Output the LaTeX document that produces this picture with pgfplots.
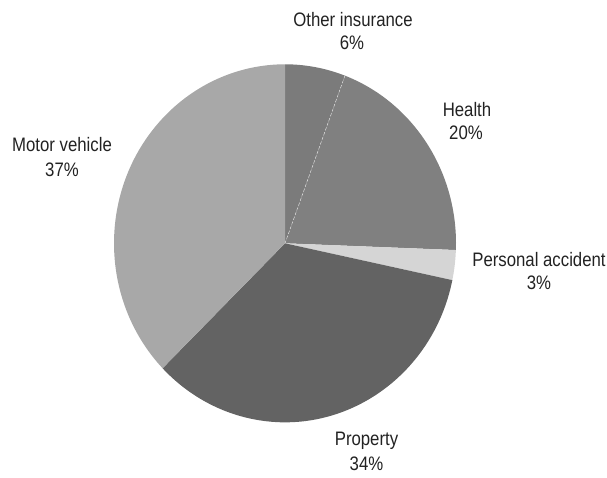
\documentclass[border=0pt]{standalone}
\usepackage{pgfplots}
\usepackage{pgfplotstable}
\pgfplotsset{compat=1.18}
\usepackage{fontspec}
\setmainfont{Liberation Sans}
\usepackage{graphicx}
\definecolor{cOther}{HTML}{7B7B7B}
\definecolor{cHealth}{HTML}{808080}
\definecolor{cPers}{HTML}{D5D5D5}
\definecolor{cProp}{HTML}{636363}
\definecolor{cMotor}{HTML}{A8A8A8}
\definecolor{txt}{HTML}{222222}
\pgfplotstableread{
label value color
Other 5.7 cOther
Health 19.9 cHealth
Personal 2.7 cPers
Property 34.4 cProp
Motor 37.3 cMotor
}\piedata
\newcommand{\lab}[1]{\scalebox{0.86}[1]{#1}}
\begin{document}
\begin{tikzpicture}
\begin{axis}[
  width=607pt, height=477pt, scale only axis,
  xmin=0, xmax=607, ymin=0, ymax=477,
  hide axis, clip=false,
]
\path (axis cs:0,0) rectangle (axis cs:607,477);
\pgfmathsetmacro\cum{0}
\pgfplotsforeachungrouped \i in {0,...,4}{%
  \pgfplotstablegetelem{\i}{value}\of\piedata
  \let\v\pgfplotsretval
  \pgfplotstablegetelem{\i}{color}\of\piedata
  \let\col\pgfplotsretval
  \pgfmathsetmacro\aS{90-3.6*\cum}%
  \pgfmathsetmacro\aE{90-3.6*(\cum+\v)}%
  \edef\temp{\noexpand\fill[\col] (axis cs:285,233.7) -- ++(\aS:171pt and 179pt) arc[start angle=\aS, end angle=\aE, x radius=171pt, y radius=179pt] -- cycle;}%
  \temp
  \pgfmathsetmacro\cum{\cum+\v}%
}
\pgfplotstablegetelem{0}{value}\of\piedata
\pgfmathsetmacro\aB{90-3.6*\pgfplotsretval}
\edef\temp{\noexpand\draw[white!85!gray, densely dashed, line width=0.4pt] (axis cs:285,233.7) -- ++(\aB:171pt and 179pt);}
\temp
\tikzset{lbl/.style={anchor=base, inner sep=0pt, text=txt, font=\fontsize{19.5}{23.4}\selectfont}}
\node[lbl] at (axis cs:353,450.3) {\lab{Other insurance}};
\node[lbl] at (axis cs:352,427) {\lab{6\%}};
\node[lbl] at (axis cs:467,360) {\lab{Health}};
\node[lbl] at (axis cs:466,337) {\lab{20\%}};
\node[lbl] at (axis cs:539,210.3) {\lab{Personal accident}};
\node[lbl] at (axis cs:539,187.7) {\lab{3\%}};
\node[lbl] at (axis cs:366.5,32) {\lab{Property}};
\node[lbl] at (axis cs:366.5,6.3) {\lab{34\%}};
\node[lbl] at (axis cs:62,325.3) {\lab{Motor vehicle}};
\node[lbl] at (axis cs:62,300.3) {\lab{37\%}};
\end{axis}
\end{tikzpicture}
\end{document}
